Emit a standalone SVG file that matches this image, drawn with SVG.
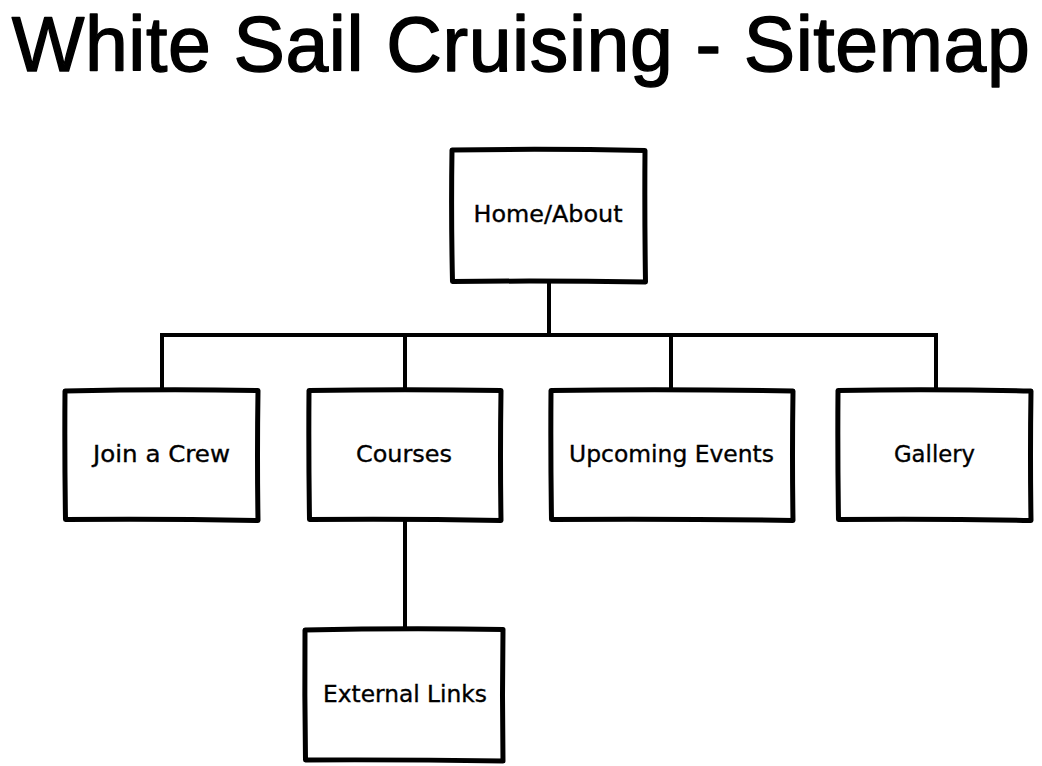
<svg xmlns="http://www.w3.org/2000/svg" width="1042" height="766" viewBox="0 0 1042 766">
<style>
.box{fill:#ffffff;stroke:#000000;stroke-width:5;stroke-linejoin:round;stroke-linecap:round}
.conn{fill:none;stroke:#000000;stroke-width:4;stroke-linecap:butt}
.lbl{font-family:"DejaVu Sans","Liberation Sans",sans-serif;font-size:23px;fill:#000000;stroke:#000000;stroke-width:0.35;text-anchor:middle}
.title{font-family:"Liberation Sans","DejaVu Sans",sans-serif;font-size:77px;letter-spacing:0.6px;fill:#000000;stroke:#000000;stroke-width:1.4;stroke-linejoin:round;text-anchor:middle}
</style>
<rect width="1042" height="766" fill="#ffffff"/>
<text class="title" x="521" y="71">White Sail Cruising - Sitemap</text>
<g id="connectors">
<path class="conn" d="M549 282 L549 335"/>
<path class="conn" d="M160 335 L938 335"/>
<path class="conn" d="M162 335 L162 390"/>
<path class="conn" d="M405 335 L405 390"/>
<path class="conn" d="M671 335 L671 390"/>
<path class="conn" d="M936 335 L936 390"/>
<path class="conn" d="M405 520 L405 629"/>
</g>
<g id="home">
<path class="box" d="M452 150 Q548 148.5 645 150.5 Q644.5 216 645.5 282 Q548 280.5 452.5 281.5 Q451 216 452 150 Z"/>
<text class="lbl" x="548" y="222" textLength="149" lengthAdjust="spacingAndGlyphs">Home/About</text>
</g>
<g id="join">
<path class="box" d="M65 391 Q161 389 258 390.5 Q257 455 258 520.5 Q161 518.5 65.5 519.5 Q64.5 455 65 391 Z"/>
<text class="lbl" x="161.5" y="462" textLength="137" lengthAdjust="spacingAndGlyphs">Join a Crew</text>
</g>
<g id="courses">
<path class="box" d="M309 390.5 Q405 389 501 390.5 Q500 455 501 520.5 Q405 518.5 309.5 519.5 Q308.5 455 309 390.5 Z"/>
<text class="lbl" x="404" y="462" textLength="96" lengthAdjust="spacingAndGlyphs">Courses</text>
</g>
<g id="events">
<path class="box" d="M551 390.5 Q672 389 793 391 Q792 455 793 520.5 Q672 518.5 551.5 519.5 Q550.5 455 551 390.5 Z"/>
<text class="lbl" x="671.5" y="462" textLength="205" lengthAdjust="spacingAndGlyphs">Upcoming Events</text>
</g>
<g id="gallery">
<path class="box" d="M838 390.5 Q935 389 1031 391 Q1030 455 1031 520.5 Q935 518.5 838.5 519.5 Q837.5 455 838 390.5 Z"/>
<text class="lbl" x="934.5" y="462" textLength="81" lengthAdjust="spacingAndGlyphs">Gallery</text>
</g>
<g id="external">
<path class="box" d="M305 630 Q404 628 503 629.5 Q502 695 503 761 Q404 759.5 305.5 760 Q304.5 695 305 630 Z"/>
<text class="lbl" x="405" y="702" textLength="164" lengthAdjust="spacingAndGlyphs">External Links</text>
</g>
</svg>
